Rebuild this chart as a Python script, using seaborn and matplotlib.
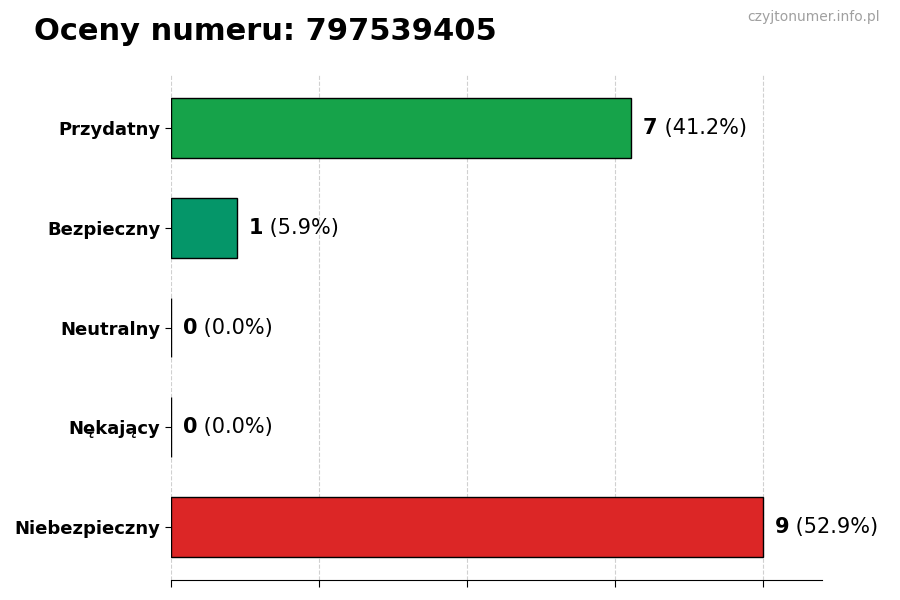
import matplotlib
matplotlib.use("Agg")
import matplotlib.pyplot as plt
import seaborn as sns
import pandas as pd
from matplotlib.transforms import offset_copy

categories = ["Przydatny", "Bezpieczny", "Neutralny", "Nękający", "Niebezpieczny"]
counts = [7, 1, 0, 0, 9]
colors = ["#16a34a", "#059669", "#9ca3af", "#f97316", "#dc2626"]
title = "Oceny numeru: 797539405"
watermark = "czyjtonumer.info.pl"

total = sum(counts)
df = pd.DataFrame({"cat": categories, "count": counts})

sns.set_style("white")
plt.rcParams['font.family'] = ['DejaVu Sans']
plt.rcParams['text.color'] = 'black'
plt.rcParams['axes.labelcolor'] = 'black'
plt.rcParams['xtick.color'] = 'black'
plt.rcParams['ytick.color'] = 'black'

fig = plt.figure(figsize=(9, 6), dpi=100)
ax = fig.add_axes([0.19, 0.0333, 0.7233, 0.8417])

sns.barplot(data=df, y="cat", x="count", hue="cat", palette=dict(zip(categories, colors)),
            orient="h", width=0.6, edgecolor="black", linewidth=1, legend=False,
            saturation=1, ax=ax, zorder=3)

mx = max(counts)
ax.set_xlim(0, mx * 1.1)
ax.set_ylim(len(categories) - 1 + 0.53, -0.53)
ax.set_xticks([mx * i / 4 for i in range(5)])
ax.set_xticklabels([])
ax.xaxis.grid(True, linestyle="--", color="#d0d0d0", linewidth=0.8, zorder=0)
ax.yaxis.grid(False)
ax.set_axisbelow(True)
ax.set_xlabel("")
ax.set_ylabel("")
for s in ["top", "right", "left"]:
    ax.spines[s].set_visible(False)
ax.spines["bottom"].set_color("black")
ax.tick_params(axis="x", length=5, color="black", bottom=True)
ax.tick_params(axis="y", length=4, color="black", left=True, labelcolor="black")
for lab in ax.get_yticklabels():
    lab.set_fontweight("bold")
    lab.set_fontsize(13)

fig.canvas.draw()
renderer = fig.canvas.get_renderer()
for i, c in enumerate(counts):
    pct = 100 * c / total
    t = ax.text(c + mx * 0.02, i, str(c), fontsize=15, fontweight="bold", va="center", ha="left", color="black")
    ext = t.get_window_extent(renderer=renderer)
    tr = offset_copy(ax.transData, fig=fig, x=ext.width * 72 / fig.dpi, y=0, units="points")
    ax.text(c + mx * 0.02, i, f" ({pct:.1f}%)", fontsize=15, va="center", ha="left", transform=tr, color="black")

fig.text(34 / 900, 1 - 31 / 600, title, fontsize=22, fontweight="bold", va="center", ha="left", color="black")
fig.text(880 / 900, 1 - 17 / 600, watermark, fontsize=10, color="#a0a0a0", va="center", ha="right")

fig.savefig("out.png", dpi=100)
